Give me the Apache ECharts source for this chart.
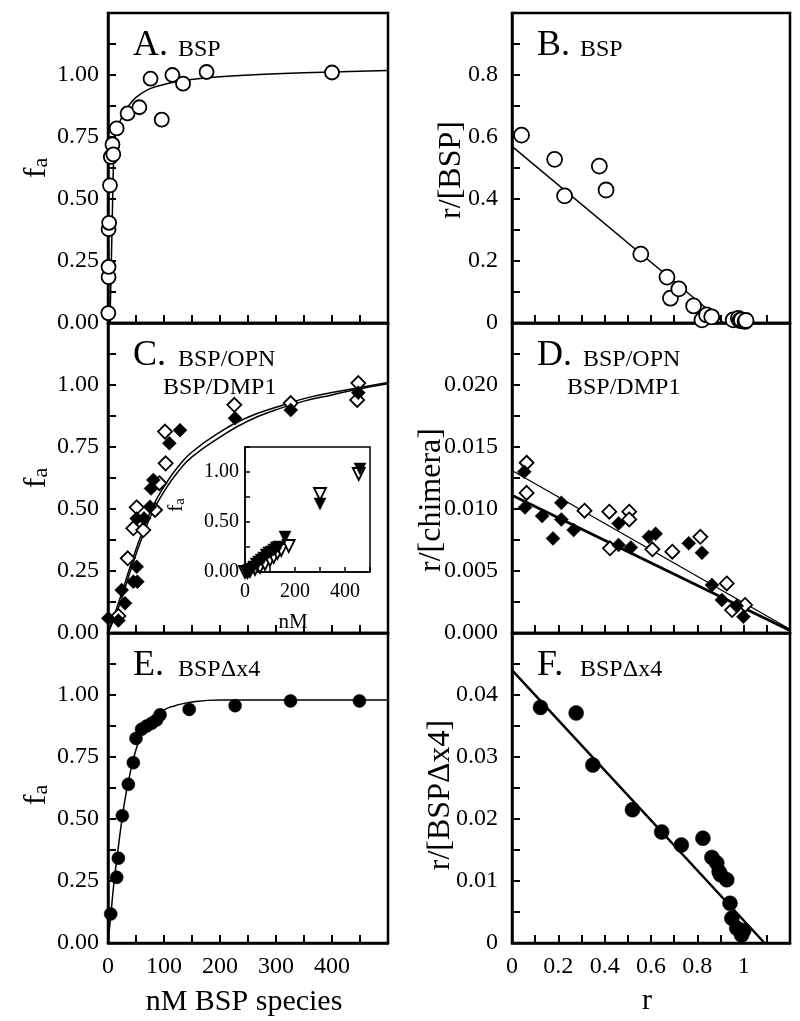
<!DOCTYPE html>
<html>
<head>
<meta charset="utf-8">
<script src="https://cdn.jsdelivr.net/npm/echarts@6/dist/echarts.min.js"></script>
<style>html,body{margin:0;padding:0;background:#fff;}#c{width:800px;height:1021px;}</style>
</head>
<body>
<div id="c"></div>
<script>
// ---------- DATA ----------
// Panel A: BSP saturation (open circles)
const aX = [0.6, 1, 1, 1, 2, 3.5, 5, 8, 9.5, 15.5, 35, 56, 76, 96, 115, 134, 176, 400];
const aY = [0.04, 0.185, 0.226, 0.378, 0.404, 0.555, 0.67, 0.72, 0.68, 0.785, 0.845, 0.87, 0.985, 0.82, 1.0, 0.965, 1.012, 1.01];
const aFitX = [3.5, 6, 8.5, 10.5, 13, 17, 25, 35, 50, 75, 100, 134, 200, 300, 400, 500];
const aFitY = [0, 0.25, 0.52, 0.70, 0.76, 0.79, 0.83, 0.87, 0.91, 0.945, 0.962, 0.978, 0.993, 1.005, 1.012, 1.018];
// Panel B: BSP Scatchard
const bX = [0.041, 0.184, 0.227, 0.377, 0.406, 0.556, 0.669, 0.684, 0.72, 0.784, 0.82, 0.84, 0.862, 0.955, 0.977, 0.984, 0.99, 1.006, 1.01];
const bY = [0.606, 0.528, 0.41, 0.506, 0.429, 0.222, 0.148, 0.08, 0.11, 0.055, 0.01, 0.026, 0.02, 0.01, 0.015, 0.008, 0.01, 0.005, 0.008];
const bFitX = [0, 0.915];
const bFitY = [0.57, 0];
// Panel C: chimeras (filled = BSP/OPN, open = BSP/DMP1)
const cFilledX = [0.6, 18.5, 24.4, 30.4, 45.2, 52.4, 51.2, 51.2, 64.3, 75, 76.8, 80.9, 109.5, 128.6, 226.8, 326.3, 447];
const cFilledY = [0.059, 0.05, 0.173, 0.12, 0.207, 0.207, 0.267, 0.462, 0.462, 0.509, 0.583, 0.617, 0.765, 0.818, 0.866, 0.899, 0.969];
const cOpenX = [18.5, 35.2, 45.2, 51.2, 63, 84, 91.7, 103, 101.8, 225.6, 326.3, 447, 445];
const cOpenY = [0.069, 0.301, 0.422, 0.507, 0.415, 0.496, 0.604, 0.684, 0.812, 0.92, 0.927, 1.008, 0.94];
const cFit1X = [0, 20, 40, 60, 80, 100, 125, 150, 200, 250, 300, 350, 400, 450, 500];
const cFit1Y = [0, 0.13, 0.27, 0.40, 0.51, 0.59, 0.67, 0.73, 0.81, 0.87, 0.91, 0.945, 0.97, 0.99, 1.01];
const cFit2X = [0, 20, 40, 60, 80, 100, 125, 150, 200, 250, 300, 350, 400, 450, 500];
const cFit2Y = [0, 0.11, 0.25, 0.38, 0.49, 0.57, 0.65, 0.71, 0.79, 0.855, 0.90, 0.935, 0.96, 0.985, 1.005];
// Inset of panel C
const insFilledX = [5, 15, 25, 35, 45, 55, 65, 75, 85, 95, 105, 115, 125, 135, 160, 300, 460];
const insFilledY = [0.0, 0.01, 0.03, 0.05, 0.08, 0.10, 0.12, 0.14, 0.17, 0.19, 0.20, 0.22, 0.24, 0.25, 0.35, 0.68, 1.03];
const insOpenX = [0, 10, 20, 40, 60, 80, 100, 115, 130, 145, 175, 300, 455];
const insOpenY = [0.0, 0.0, 0.01, 0.03, 0.05, 0.08, 0.12, 0.15, 0.19, 0.22, 0.26, 0.78, 0.98];
// Panel D: chimeras Scatchard
const dFilledX = [0.053, 0.056, 0.13, 0.177, 0.213, 0.213, 0.266, 0.46, 0.46, 0.513, 0.591, 0.62, 0.763, 0.82, 0.863, 0.906, 0.97, 0.999];
const dFilledY = [0.0130, 0.01013, 0.00943, 0.00763, 0.0105, 0.00916, 0.0083, 0.00884, 0.0071, 0.0069, 0.00776, 0.0080, 0.00723, 0.00647, 0.00387, 0.00266, 0.00218, 0.00131];
const dOpenX = [0.063, 0.063, 0.313, 0.42, 0.423, 0.506, 0.506, 0.606, 0.692, 0.813, 0.927, 1.006, 0.95];
const dOpenY = [0.01373, 0.0113, 0.00986, 0.00978, 0.00683, 0.00978, 0.00916, 0.00675, 0.00656, 0.00776, 0.0040, 0.00226, 0.00185];
const dFitThinX = [0, 1.2];
const dFitThinY = [0.0131, 0.0003];
const dFitThickX = [0, 1.2];
const dFitThickY = [0.0111, 0.0002];
// Panel E: BSPΔx4 saturation
const eX = [4.8, 15.5, 18.5, 25.6, 36.3, 45.2, 50, 60, 69, 78, 87, 93, 145, 227, 326, 449];
const eY = [0.117, 0.265, 0.342, 0.513, 0.64, 0.727, 0.825, 0.862, 0.875, 0.886, 0.90, 0.92, 0.942, 0.957, 0.976, 0.976];
const eFitX = [0, 5, 10, 17, 25, 32, 40, 50, 60, 70, 80, 100, 120, 150, 200, 300, 500];
const eFitY = [0, 0.11, 0.23, 0.36, 0.50, 0.60, 0.69, 0.78, 0.84, 0.88, 0.905, 0.94, 0.957, 0.972, 0.98, 0.98, 0.98];
// Panel F: BSPΔx4 Scatchard
const fX = [0.123, 0.277, 0.349, 0.52, 0.646, 0.731, 0.824, 0.863, 0.884, 0.894, 0.90, 0.927, 0.941, 0.949, 0.97, 0.991, 1.0];
const fY = [0.0380, 0.0371, 0.0287, 0.0215, 0.0179, 0.0158, 0.0169, 0.0138, 0.0129, 0.0115, 0.011, 0.0102, 0.0064, 0.004, 0.0024, 0.0013, 0.002];
const fFitX = [0, 1.09];
const fFitY = [0.044, 0];

// ---------- HELPERS ----------
const FONT = 'Liberation Serif';
const zip = (xs, ys) => xs.map((x, i) => [x, ys[i]]);
const near = (v, step) => Math.abs(v / step - Math.round(v / step)) < 1e-6;

function xAxis(grid, max, interval, labelStep, showLabels, fmt) {
  return {
    type: 'value', gridIndex: grid, min: 0, max: max, interval: interval,
    axisLine: { show: true, onZero: false, lineStyle: { color: '#000', width: 2.5 } },
    axisTick: { show: true, inside: true, length: 8, lineStyle: { color: '#000', width: 2 } },
    splitLine: { show: false },
    axisLabel: {
      show: showLabels, color: '#000', fontFamily: FONT, fontSize: 24, margin: 12,
      formatter: v => (near(v, labelStep) && v < max - 1e-9) ? fmt(v) : ''
    }
  };
}
function yAxis(grid, max, interval, labelStep, fmt, margin) {
  return {
    type: 'value', gridIndex: grid, min: 0, max: max, interval: interval,
    axisLine: { show: true, onZero: false, lineStyle: { color: '#000', width: 2.5 } },
    axisTick: { show: true, inside: true, length: 8, lineStyle: { color: '#000', width: 2 } },
    splitLine: { show: false },
    axisLabel: {
      show: true, color: '#000', fontFamily: FONT, fontSize: 24, margin: margin,
      formatter: v => (near(v, labelStep) && v < max - 1e-9) ? fmt(v) : ''
    }
  };
}
const fmt2 = v => v.toFixed(2);
const fmt3 = v => v.toFixed(3);
const fmtR = v => String(parseFloat(v.toFixed(3)));

function line(idx, xs, ys, width, smooth) {
  return { type: 'line', xAxisIndex: idx, yAxisIndex: idx, data: zip(xs, ys), showSymbol: false, symbol: 'none',
    smooth: smooth || false, lineStyle: { color: '#000', width: width }, silent: true, z: 2 };
}
function scat(idx, xs, ys, symbol, size, filled, rot) {
  return { type: 'scatter', xAxisIndex: idx, yAxisIndex: idx, data: zip(xs, ys), symbol: symbol, symbolSize: size,
    symbolRotate: rot || 0, clip: false, z: 3,
    itemStyle: { color: filled ? '#000' : '#fff', borderColor: '#000', borderWidth: filled ? 0.5 : 1.8, opacity: 1 } };
}
function t(x, y, text, size, align) {
  return { type: 'text', x: x, y: y, z: 100,
    style: { text: text, fontFamily: FONT, fontSize: size, fill: '#000', align: align || 'left', verticalAlign: 'middle' } };
}
function fa(x, y, fs, as) {
  return { type: 'text', x: x, y: y, rotation: Math.PI / 2, z: 100,
    style: { text: '{f|f}{a|a}', align: 'center', verticalAlign: 'middle', fill: '#000', fontFamily: FONT,
      rich: { f: { fontFamily: FONT, fontSize: fs, lineHeight: fs * 1.4, verticalAlign: 'bottom' },
              a: { fontFamily: FONT, fontSize: as, lineHeight: as, verticalAlign: 'bottom' } } } };
}
function vt(x, y, text, size) {
  return { type: 'text', x: x, y: y, rotation: Math.PI / 2, z: 100,
    style: { text: text, fontFamily: FONT, fontSize: size, fill: '#000', align: 'center', verticalAlign: 'middle' } };
}

const gridStyle = { show: true, borderColor: '#000', borderWidth: 2.5, backgroundColor: 'transparent', containLabel: false };
const LW = 280, RW = 278, H = 310;

const option = {
  animation: false,
  backgroundColor: '#fff',
  textStyle: { fontFamily: FONT },
  grid: [
    Object.assign({ left: 108, top: 13, width: LW, height: H }, gridStyle),
    Object.assign({ left: 512, top: 13, width: RW, height: H }, gridStyle),
    Object.assign({ left: 108, top: 323, width: LW, height: H }, gridStyle),
    Object.assign({ left: 512, top: 323, width: RW, height: H }, gridStyle),
    Object.assign({ left: 108, top: 633, width: LW, height: H }, gridStyle),
    Object.assign({ left: 512, top: 633, width: RW, height: H }, gridStyle),
    { show: true, left: 245, top: 447, width: 125, height: 125, borderColor: '#000', borderWidth: 1.5, backgroundColor: '#fff' }
  ],
  xAxis: [
    xAxis(0, 500, 50, 100, false, fmtR),
    xAxis(1, 1.2, 0.1, 0.2, false, fmtR),
    xAxis(2, 500, 50, 100, false, fmtR),
    xAxis(3, 1.2, 0.1, 0.2, false, fmtR),
    xAxis(4, 500, 50, 100, true, fmtR),
    xAxis(5, 1.2, 0.1, 0.2, true, fmtR),
    {
      type: 'value', gridIndex: 6, min: 0, max: 500, interval: 100,
      axisLine: { show: true, onZero: false, lineStyle: { color: '#000', width: 1.5 } },
      axisTick: { show: true, inside: true, length: 5, lineStyle: { color: '#000', width: 1.5 } },
      splitLine: { show: false },
      axisLabel: { color: '#000', fontFamily: FONT, fontSize: 20, margin: 10,
        formatter: v => (near(v, 200) && v < 500) ? fmtR(v) : '' }
    }
  ],
  yAxis: [
    yAxis(0, 1.25, 0.125, 0.25, fmt2, 9),
    yAxis(1, 1.0, 0.1, 0.2, fmtR, 14),
    yAxis(2, 1.25, 0.125, 0.25, fmt2, 9),
    yAxis(3, 0.025, 0.0025, 0.005, fmt3, 14),
    yAxis(4, 1.25, 0.125, 0.25, fmt2, 9),
    yAxis(5, 0.05, 0.005, 0.01, v => v === 0 ? '0' : v.toFixed(2), 14),
    {
      type: 'value', gridIndex: 6, min: 0, max: 1.25, interval: 0.25,
      axisLine: { show: true, onZero: false, lineStyle: { color: '#000', width: 1.5 } },
      axisTick: { show: true, inside: true, length: 5, lineStyle: { color: '#000', width: 1.5 } },
      splitLine: { show: false },
      axisLabel: { color: '#000', fontFamily: FONT, fontSize: 20, margin: 6,
        formatter: v => (near(v, 0.5) && v < 1.2) ? v.toFixed(2) : '' }
    }
  ],
  series: [
    line(0, aFitX, aFitY, 1.5, 0.2),
    scat(0, aX, aY, 'circle', 14, false),
    line(1, bFitX, bFitY, 1.5),
    scat(1, bX, bY, 'circle', 15, false),
    line(2, cFit1X, cFit1Y, 1.5, true),
    line(2, cFit2X, cFit2Y, 1.5, true),
    scat(2, cOpenX, cOpenY, 'diamond', 14, false),
    scat(2, cFilledX, cFilledY, 'diamond', 14, true),
    line(3, dFitThinX, dFitThinY, 1.3),
    line(3, dFitThickX, dFitThickY, 2.8),
    scat(3, dOpenX, dOpenY, 'diamond', 14, false),
    scat(3, dFilledX, dFilledY, 'diamond', 14, true),
    line(4, eFitX, eFitY, 1.5, true),
    scat(4, eX, eY, 'circle', 13, true),
    line(5, fFitX, fFitY, 2.5),
    scat(5, fX, fY, 'circle', 15, true),
    scat(6, insOpenX, insOpenY, 'triangle', 12, false, 180),
    scat(6, insFilledX, insFilledY, 'triangle', 12, true, 180)
  ],
  graphic: [
    // panel labels
    t(133, 46, 'A.', 36), t(178, 50, 'BSP', 24),
    t(537, 46, 'B.', 36), t(580, 50, 'BSP', 24),
    t(133, 356, 'C.', 36), t(178, 360, 'BSP/OPN', 24), t(163, 388, 'BSP/DMP1', 24),
    t(537, 356, 'D.', 36), t(583, 360, 'BSP/OPN', 24), t(567, 388, 'BSP/DMP1', 24),
    t(133, 666, 'E.', 36), t(178, 670, 'BSPΔx4', 24),
    t(537, 666, 'F.', 36), t(580, 670, 'BSPΔx4', 24),
    // axis titles
    fa(30, 168, 32, 22), fa(30, 478, 32, 22), fa(30, 795, 32, 22),
    vt(452, 170, 'r/[BSP]', 32), vt(432, 500, 'r/[chimera]', 32), vt(441, 795, 'r/[BSPΔx4]', 32),
    t(244, 1002, 'nM BSP species', 30, 'center'),
    t(647, 1001, 'r', 30, 'center'),
    // inset titles
    fa(172, 505, 22, 15),
    t(293, 622, 'nM', 21, 'center')
  ]
};

const chart = echarts.init(document.getElementById('c'), null, { renderer: 'canvas', width: 800, height: 1021 });
chart.setOption(option);
</script>
</body>
</html>
